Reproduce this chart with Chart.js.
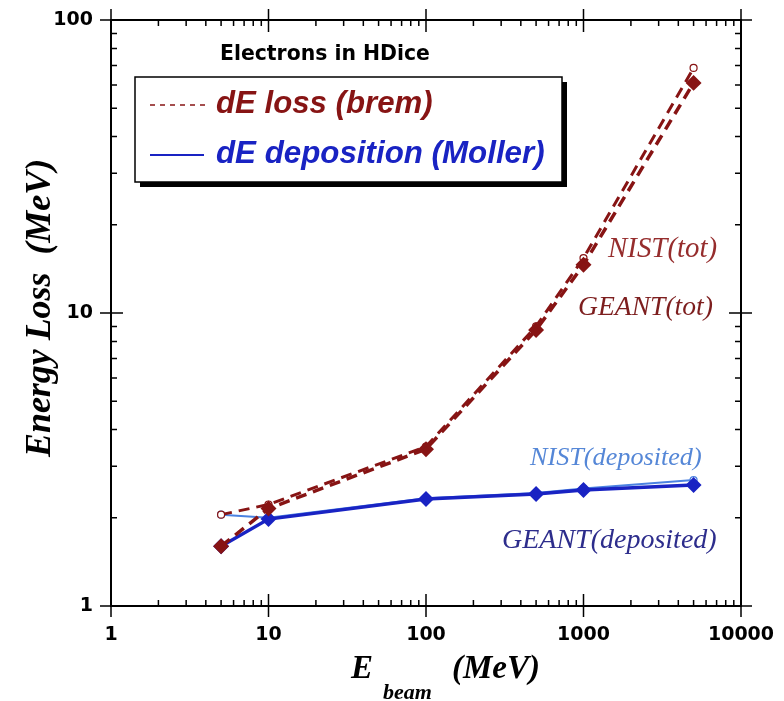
<!DOCTYPE html>
<html>
<head>
<meta charset="utf-8">
<script src="https://cdn.jsdelivr.net/npm/chart.js@4/dist/chart.umd.min.js"></script>
<style>
  body { margin: 0; background: #fff; }
  canvas { display: block; }
</style>
</head>
<body>
<canvas id="lossChart" width="784" height="701"></canvas>
<script>
// beam energies (MeV) and energy loss values (MeV)
const beamEnergies = [5, 10, 100, 500, 1000, 5000];
const geantTot = [1.60, 2.15, 3.43, 8.75, 14.6, 61.0];
const nistTot  = [2.05, 2.22, 3.50, 9.00, 15.4, 68.6];
const geantDep = [1.60, 1.98, 2.32, 2.41, 2.49, 2.59];
const nistDep  = [2.05, 2.00, 2.33, 2.43, 2.52, 2.69];

const xTickLabels = [1, 10, 100, 1000, 10000];
const yTickLabels = [1, 10, 100];

const BREM = "rgb(135,20,20)";
const DEP = "rgb(25,35,195)";
const DEP_LIGHT = "rgb(75,130,225)";

function toPoints(vals) {
    return beamEnergies.map((e, i) => ({ x: e, y: vals[i] }));
}

// draw text scaled so that it spans the given width
function fitText(ctx, text, x, y, width, style, family, color) {
    ctx.font = style + " 100px " + family;
    const size = 100 * width / ctx.measureText(text).width;
    ctx.font = style + " " + size.toFixed(1) + "px " + family;
    ctx.fillStyle = color;
    ctx.fillText(text, x, y);
}

const framePlugin = {
    id: "frame",
    afterDraw(chart) {
        const ctx = chart.ctx;
        const a = chart.chartArea;
        const xs = chart.scales.x, ys = chart.scales.y;
        ctx.save();
        ctx.strokeStyle = "#000";
        ctx.lineWidth = 2;
        ctx.strokeRect(a.left, a.top, a.right - a.left, a.bottom - a.top);

        ctx.lineWidth = 1.5;
        ctx.beginPath();
        // x ticks, bottom and top
        for (let d = 1; d <= 10000; d *= 10) {
            const px = xs.getPixelForValue(d);
            ctx.moveTo(px, a.bottom - 12); ctx.lineTo(px, a.bottom + 11);
            ctx.moveTo(px, a.top + 12); ctx.lineTo(px, a.top - 11);
            if (d < 10000) {
                for (let m = 2; m <= 9; m++) {
                    const p = xs.getPixelForValue(m * d);
                    ctx.moveTo(p, a.bottom); ctx.lineTo(p, a.bottom - 6);
                    ctx.moveTo(p, a.top); ctx.lineTo(p, a.top + 6);
                }
            }
        }
        // y ticks, left and right
        for (let d = 1; d <= 100; d *= 10) {
            const py = ys.getPixelForValue(d);
            ctx.moveTo(a.left - 11, py); ctx.lineTo(a.left + 12, py);
            ctx.moveTo(a.right + 11, py); ctx.lineTo(a.right - 12, py);
            if (d < 100) {
                for (let m = 2; m <= 9; m++) {
                    const p = ys.getPixelForValue(m * d);
                    ctx.moveTo(a.left, p); ctx.lineTo(a.left + 6, p);
                    ctx.moveTo(a.right, p); ctx.lineTo(a.right - 6, p);
                }
            }
        }
        ctx.stroke();

        ctx.textAlign = "left";
        ctx.textBaseline = "alphabetic";

        // header
        fitText(ctx, "Electrons in HDice", 220, 60, 210, "bold", '"DejaVu Sans"', "#000");

        // legend box with shadow
        ctx.fillStyle = "#000";
        ctx.fillRect(140, 82, 427, 105);
        ctx.fillStyle = "#fff";
        ctx.fillRect(135, 77, 427, 105);
        ctx.lineWidth = 1.5;
        ctx.strokeRect(135, 77, 427, 105);

        ctx.strokeStyle = BREM;
        ctx.lineWidth = 1.5;
        ctx.setLineDash([5, 5]);
        ctx.beginPath(); ctx.moveTo(150, 105); ctx.lineTo(205, 105); ctx.stroke();
        ctx.setLineDash([]);
        ctx.strokeStyle = DEP;
        ctx.lineWidth = 2;
        ctx.beginPath(); ctx.moveTo(150, 155); ctx.lineTo(204, 155); ctx.stroke();

        fitText(ctx, "dE loss (brem)", 216, 113, 217, "italic bold", '"Liberation Sans"', BREM);
        fitText(ctx, "dE deposition (Moller)", 216, 163, 329, "italic bold", '"Liberation Sans"', DEP);

        // curve annotations
        const serif = '"Liberation Serif"';
        fitText(ctx, "NIST(tot)", 608, 257, 109, "italic", serif, "rgb(150,45,45)");
        fitText(ctx, "GEANT(tot)", 578, 315, 135, "italic", serif, "rgb(125,30,30)");
        fitText(ctx, "NIST(deposited)", 530, 465, 172, "italic", serif, "rgb(85,135,215)");
        fitText(ctx, "GEANT(deposited)", 502, 548, 215, "italic", serif, "rgb(45,45,140)");

        // axis titles
        ctx.save();
        ctx.translate(50, 457);
        ctx.rotate(-Math.PI / 2);
        fitText(ctx, "Energy Loss  (MeV)", 0, 0, 298, "italic bold", serif, "#000");
        ctx.restore();

        ctx.fillStyle = "#000";
        ctx.font = 'italic bold 33px "Liberation Serif"';
        ctx.fillText("E", 351, 678);
        ctx.fillText("(MeV)", 452, 678);
        ctx.font = 'italic bold 22px "Liberation Serif"';
        ctx.fillText("beam", 383, 699);
        ctx.restore();
    }
};

new Chart(document.getElementById("lossChart"), {
    type: "line",
    data: {
        datasets: [
            {
                label: "GEANT(tot)",
                data: toPoints(geantTot),
                borderColor: BREM,
                borderWidth: 3.5,
                borderDash: [11, 7],
                pointStyle: "rectRot",
                pointRadius: 5.5,
                pointBackgroundColor: BREM,
                pointBorderColor: BREM
            },
            {
                label: "NIST(tot)",
                data: toPoints(nistTot),
                borderColor: BREM,
                borderWidth: 3,
                borderDash: [11, 7],
                pointStyle: "circle",
                pointRadius: 3.5,
                pointBackgroundColor: "#fff",
                pointBorderColor: BREM,
                pointBorderWidth: 1.2
            },
            {
                label: "GEANT(deposited)",
                data: toPoints(geantDep),
                borderColor: DEP,
                borderWidth: 3.5,
                pointStyle: "rectRot",
                pointRadius: 5.5,
                pointBackgroundColor: DEP,
                pointBorderColor: DEP
            },
            {
                label: "NIST(deposited)",
                data: toPoints(nistDep),
                borderColor: DEP_LIGHT,
                borderWidth: 2,
                pointStyle: "circle",
                pointRadius: 3.5,
                pointBackgroundColor: "#fff",
                pointBorderColor: DEP_LIGHT,
                pointBorderWidth: 1.2
            }
        ]
    },
    options: {
        responsive: false,
        animation: false,
        layout: { padding: { top: 20, right: 43, left: 0, bottom: 0 } },
        plugins: { legend: { display: false }, tooltip: { enabled: false } },
        scales: {
            x: {
                type: "logarithmic",
                min: 1,
                max: 10000,
                grid: { display: false, drawTicks: false },
                border: { display: false },
                afterBuildTicks: s => { s.ticks = xTickLabels.map(v => ({ value: v })); },
                afterFit: s => { s.height = 95; },
                ticks: {
                    callback: v => String(v),
                    autoSkip: false,
                    maxRotation: 0,
                    padding: 8,
                    color: "#000",
                    font: { family: "DejaVu Sans", size: 19, weight: "bold", lineHeight: 2.2 }
                }
            },
            y: {
                type: "logarithmic",
                min: 1,
                max: 100,
                grid: { display: false, drawTicks: false },
                border: { display: false },
                afterBuildTicks: s => { s.ticks = yTickLabels.map(v => ({ value: v })); },
                afterFit: s => { s.width = 111; },
                ticks: {
                    callback: v => String(v),
                    autoSkip: false,
                    padding: 18,
                    color: "#000",
                    font: { family: "DejaVu Sans", size: 19, weight: "bold", lineHeight: 0.2 }
                }
            }
        }
    },
    plugins: [framePlugin]
});
</script>
</body>
</html>
